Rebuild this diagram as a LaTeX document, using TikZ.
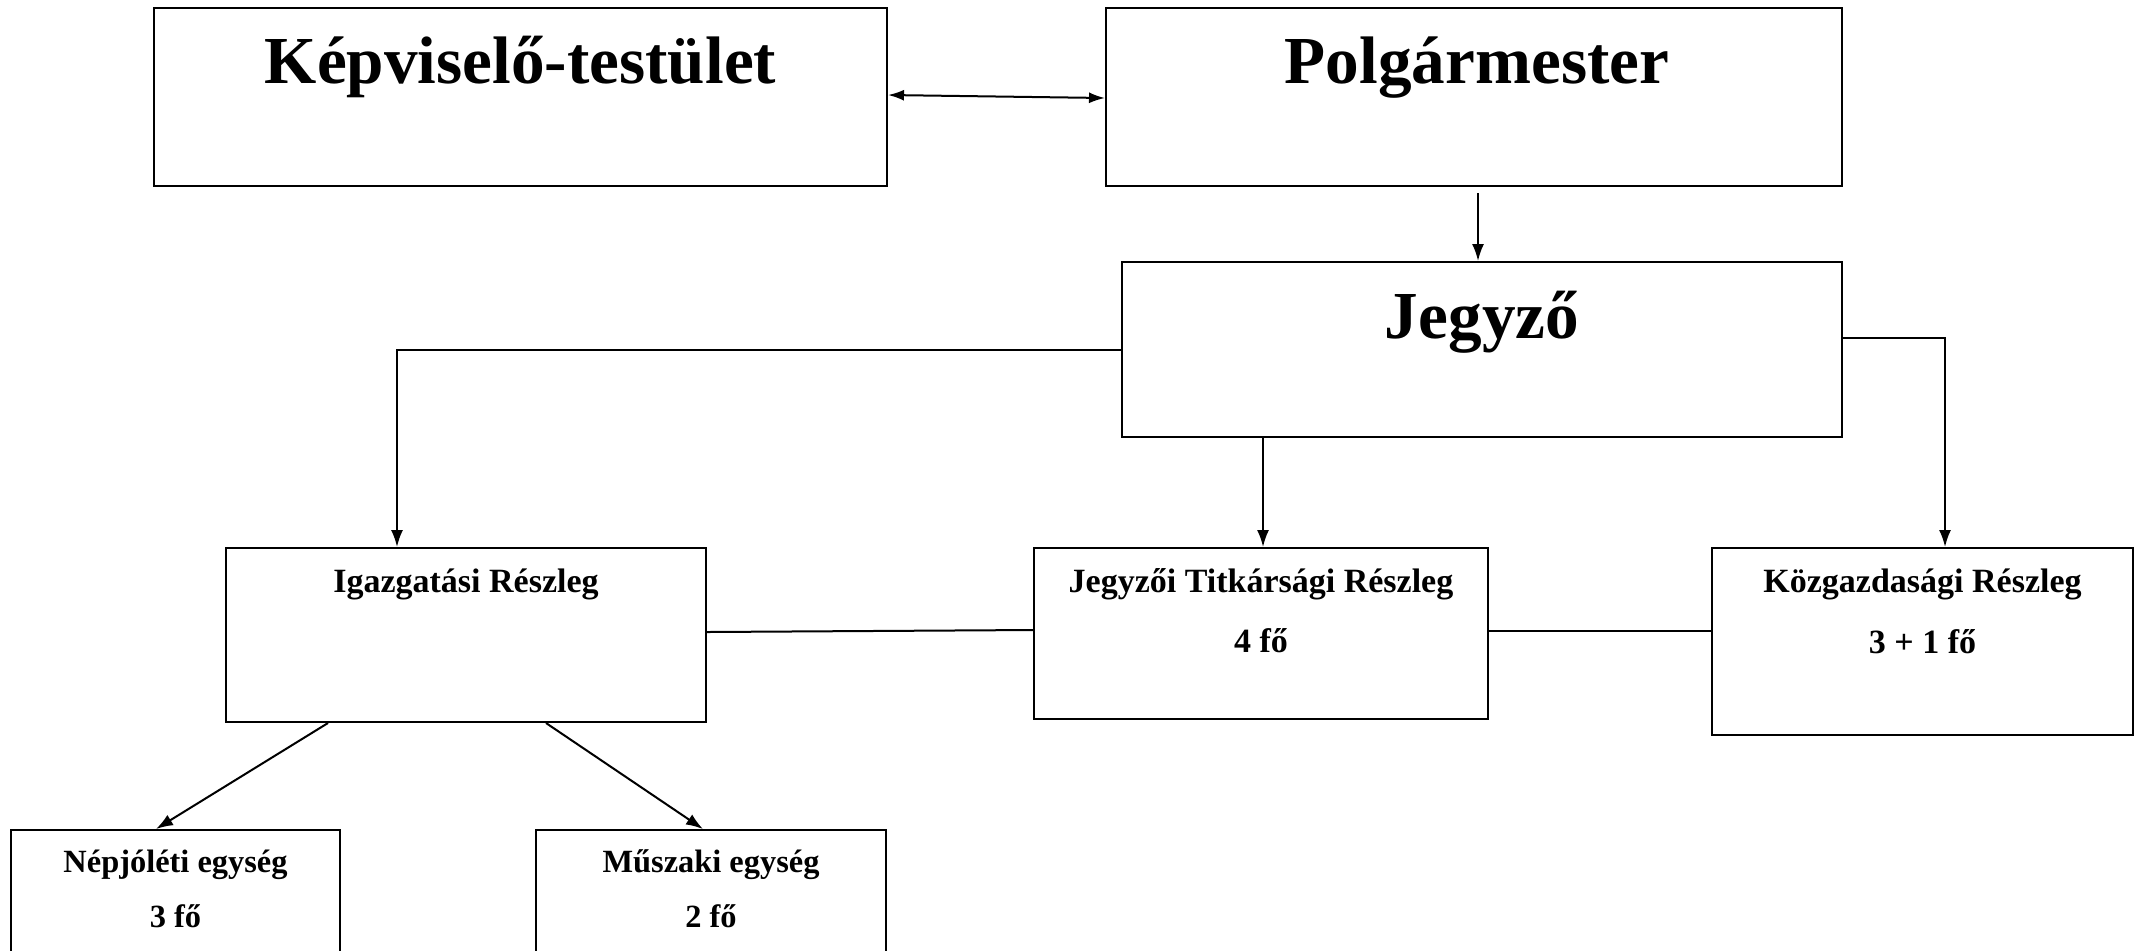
\documentclass[tikz,border=0pt]{standalone}
\usepackage{fontspec}
\setmainfont{Liberation Serif}
\usetikzlibrary{calc,arrows.meta}
\begin{document}
\begin{tikzpicture}[x=0.5pt,y=-0.5pt,
  box/.style={draw=black,line width=1pt,rectangle,inner sep=0pt,fill=none},
  big/.style={anchor=base,font=\fontsize{33.6}{40}\selectfont\bfseries},
  mid/.style={anchor=base,font=\fontsize{17}{20}\selectfont\bfseries},
  small/.style={anchor=base,font=\fontsize{16.2}{19}\selectfont\bfseries},
  conn/.style={line width=1pt,draw=black},
  arr/.style={conn,-{Latex[length=8.5pt,width=6pt]}},
  darr/.style={conn,{Latex[length=8pt,width=5.5pt]}-{Latex[length=8pt,width=5.5pt]}}]
\clip (0,0) rectangle (2139,950);
\fill[white] (0,0) rectangle (2139,950);
% boxes
\node[box,minimum width=366.5pt,minimum height=89pt] (kep) at (520.5,97) {};
\node[box,minimum width=368pt,minimum height=89pt] (pol) at (1474,97) {};
\node[box,minimum width=360pt,minimum height=87.5pt] (jeg) at (1482,349.5) {};
\node[box,minimum width=240pt,minimum height=87pt] (iga) at (466,635) {};
\node[box,minimum width=227pt,minimum height=85.5pt] (tit) at (1261,633.5) {};
\node[box,minimum width=210.5pt,minimum height=93.5pt] (koz) at (1922.5,641.5) {};
\node[box,minimum width=164.5pt,minimum height=85pt] (nep) at (175.5,915) {};
\node[box,minimum width=175pt,minimum height=85pt] (mus) at (711,915) {};
% texts
\node[big] (tkep) at (520.5,83) {Képviselő-testület};
\node[big] (tpol) at (1477,83) {Polgármester};
\node[big] (tjeg) at (1482,338) {Jegyző};
\node[mid] (tiga) at (466,592) {Igazgatási Részleg};
\node[mid] (ttit) at (1261,592) {Jegyzői Titkársági Részleg};
\node[mid] (ttit2) at (1261,652) {4 fő};
\node[mid] (tkoz) at (1922.5,592) {Közgazdasági Részleg};
\node[mid] (tkoz2) at (1922.5,653) {3 + 1 fő};
\node[small] (tnep) at (175.5,872) {Népjóléti egység};
\node[small] (tnep2) at (175.5,927) {3 fő};
\node[small] (tmus) at (711,872) {Műszaki egység};
\node[small] (tmus2) at (711,927) {2 fő};
% connector coordinates
\coordinate (ke) at ($(kep.east)+(0,-2)$);
\coordinate (pw) at ($(pol.west)+(0,1)$);
\coordinate (ps) at ($(pol.south)+(4,6)$);
\coordinate (ia) at ($(iga.north west)+(172,0)$);
\coordinate (je) at ($(jeg.east)+(0,-11.5)$);
\coordinate (ka) at ($(koz.north west)+(234,0)$);
\coordinate (ta) at ($(tit.north)+(2,0)$);
\coordinate (ie) at ($(iga.east)+(0,-3)$);
\coordinate (tw) at ($(tit.west)+(0,-3.5)$);
\coordinate (te) at ($(tit.east)+(0,-2.5)$);
\coordinate (is1) at ($(iga.south west)+(103,0)$);
\coordinate (nn) at ($(nep.north west)+(146,0)$);
\coordinate (is2) at ($(iga.south west)+(321,0)$);
\coordinate (mn) at ($(mus.north west)+(168,0)$);
% connectors
\draw[darr] (ke) -- (pw);
\draw[arr] (ps) -- (ps |- jeg.north);
\draw[arr] (jeg.west) -| (ia);
\draw[arr] (je) -| (ka);
\draw[arr] (ta |- jeg.south) -- (ta);
\draw[conn] (ie) -- (tw);
\draw[conn] (te) -- (te -| koz.west);
\draw[arr] (is1) -- (nn);
\draw[arr] (is2) -- (mn);
\end{tikzpicture}
\end{document}
